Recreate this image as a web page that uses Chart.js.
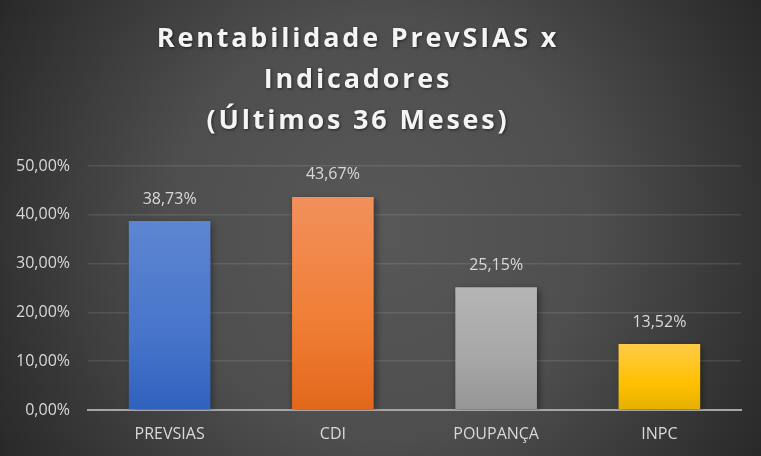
<!DOCTYPE html>
<html>
<head>
<meta charset="utf-8">
<script src="https://cdn.jsdelivr.net/npm/chart.js@4.4.1/dist/chart.umd.min.js"></script>
<style>
  html, body { margin: 0; padding: 0; background: #3a3a3a; }
  #wrap { width: 761px; height: 456px; position: relative; }
</style>
</head>
<body>
<div id="wrap"><canvas id="c" width="761" height="456"></canvas></div>
<script>
const titleLines = ['Rentabilidade PrevSIAS x', 'Indicadores', '(Últimos 36 Meses)'];
const categories = ['PREVSIAS', 'CDI', 'POUPANÇA', 'INPC'];
const values = [38.73, 43.67, 25.15, 13.52];
const tickValues = [0, 10, 20, 30, 40, 50];
const barTopColors = ['#5d86d2', '#f2905c', '#b5b5b5', '#ffcb47'];
const barMidColors = ['#4775cb', '#f07d34', '#a6a6a6', '#ffc000'];
const barBottomColors = ['#2f61bd', '#e2671b', '#959595', '#e5b000'];

function fmt(v) {
  return v.toFixed(2).replace('.', ',') + '%';
}

const bgPlugin = {
  id: 'bg',
  beforeDraw(chart) {
    const ctx = chart.ctx;
    const w = chart.width, h = chart.height;
    ctx.save();
    const g = ctx.createRadialGradient(w / 2, h / 2, 0, w / 2, h / 2, 470);
    g.addColorStop(0, '#585858');
    g.addColorStop(0.45, '#4e4e4e');
    g.addColorStop(1, '#242424');
    ctx.fillStyle = g;
    ctx.fillRect(0, 0, w, h);
    ctx.restore();
  }
};

const titlePlugin = {
  id: 'customTitle',
  afterDraw(chart) {
    const ctx = chart.ctx;
    ctx.save();
    ctx.font = 'bold 27px "Open Sans", "DejaVu Sans", sans-serif';
    if ('letterSpacing' in ctx) ctx.letterSpacing = '2.8px';
    ctx.textAlign = 'center';
    ctx.textBaseline = 'alphabetic';
    ctx.fillStyle = '#f4f4f4';
    ctx.shadowColor = 'rgba(0,0,0,0.55)';
    ctx.shadowBlur = 3;
    ctx.shadowOffsetX = 1;
    ctx.shadowOffsetY = 1;
    const baselines = [47, 88, 129];
    titleLines.forEach((t, i) => ctx.fillText(t, 358, baselines[i]));
    ctx.restore();
  }
};

const shadowPlugin = {
  id: 'barShadow',
  beforeDatasetsDraw(chart) {
    const ctx = chart.ctx;
    ctx.save();
    ctx.shadowColor = 'rgba(0,0,0,0.45)';
    ctx.shadowBlur = 7;
    ctx.shadowOffsetX = 2;
    ctx.shadowOffsetY = 2;
  },
  afterDatasetsDraw(chart) {
    chart.ctx.restore();
  }
};

const labelPlugin = {
  id: 'valueLabels',
  afterDatasetsDraw(chart) {
    const ctx = chart.ctx;
    const meta = chart.getDatasetMeta(0);
    ctx.save();
    ctx.font = '16px "Open Sans", "Liberation Sans", sans-serif';
    ctx.fillStyle = '#d9d9d9';
    ctx.textAlign = 'center';
    ctx.textBaseline = 'middle';
    meta.data.forEach((bar, i) => {
      ctx.fillText(fmt(values[i]), bar.x, bar.y - 22);
    });
    ctx.restore();
  }
};

function barGradient(context) {
  const chart = context.chart;
  const i = context.dataIndex;
  if (!chart.chartArea || i === undefined) return barMidColors[i || 0];
  const ys = chart.scales.y;
  const top = ys.getPixelForValue(values[i]);
  const base = ys.getPixelForValue(0);
  const g = chart.ctx.createLinearGradient(0, top, 0, base);
  g.addColorStop(0, barTopColors[i]);
  g.addColorStop(0.6, barMidColors[i]);
  g.addColorStop(1, barBottomColors[i]);
  return g;
}

new Chart(document.getElementById('c'), {
  type: 'bar',
  data: {
    labels: categories,
    datasets: [{
      data: values,
      backgroundColor: barGradient,
      borderWidth: 0,
      barPercentage: 0.5,
      categoryPercentage: 1.0
    }]
  },
  options: {
    responsive: false,
    animation: false,
    devicePixelRatio: 1,
    layout: { padding: { top: 166, right: 20, left: 0, bottom: 0 } },
    plugins: {
      legend: { display: false },
      title: { display: false },
      tooltip: { enabled: false }
    },
    scales: {
      x: {
        grid: { display: false, drawTicks: false },
        border: { display: true, color: '#a6a6a6', width: 2 },
        ticks: {
          color: '#d9d9d9',
          font: { family: '"Open Sans", "Liberation Sans", sans-serif', size: 16 },
          padding: 15
        },
        afterFit(scale) { scale.height = 46; }
      },
      y: {
        min: 0,
        max: 50,
        afterBuildTicks(scale) { scale.ticks = tickValues.map(v => ({ value: v })); },
        grid: { color: 'rgba(255,255,255,0.1)', lineWidth: 1.5, drawTicks: false },
        border: { display: false },
        ticks: {
          color: '#d9d9d9',
          font: { family: '"Open Sans", "Liberation Sans", sans-serif', size: 16 },
          padding: 18,
          callback: (v) => fmt(v)
        },
        afterFit(scale) { scale.width = 88; }
      }
    }
  },
  plugins: [bgPlugin, shadowPlugin, labelPlugin, titlePlugin]
});
</script>
</body>
</html>
